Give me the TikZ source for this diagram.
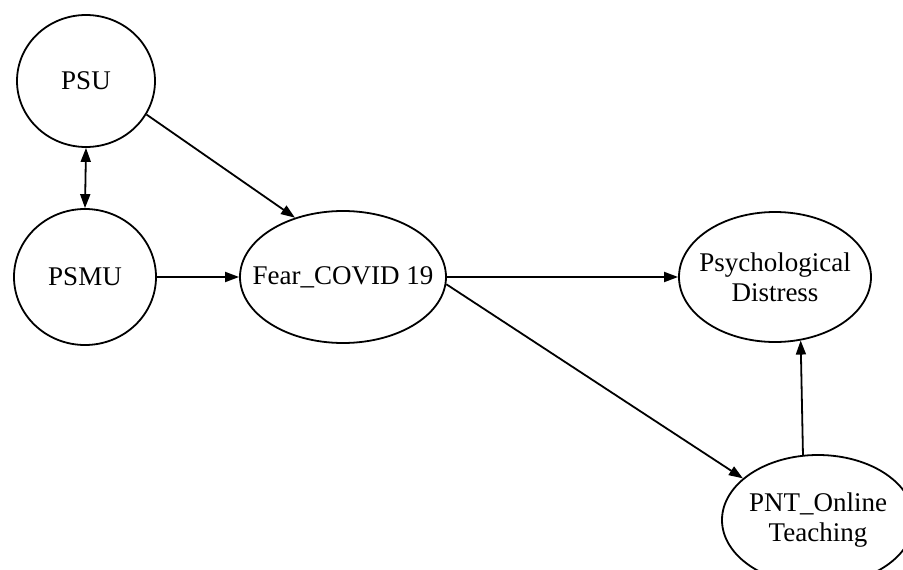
\documentclass[tikz,border=0pt]{standalone}
\usepackage{fontspec}
\setmainfont{Liberation Serif}
\usetikzlibrary{shapes.geometric,arrows.meta}
\tikzset{
  var/.style={ellipse, draw, line width=1.8pt, inner sep=0pt},
  every label/.style={align=center, font=\fontsize{27}{30}\selectfont, inner sep=0pt},
  conn/.style={line width=1.8pt, -{Triangle[length=14pt,width=10pt]}},
  biconn/.style={line width=1.8pt, {Triangle[length=14pt,width=10pt]}-{Triangle[length=14pt,width=10pt]}}
}
\begin{document}
\begin{tikzpicture}[x=1pt,y=-1pt]
\path[use as bounding box] (0,0) rectangle (903,570);
\clip (0,0) rectangle (903,570);
\node[var, minimum width=138pt, minimum height=132pt, label=center:PSU] (psu) at (86,81) {};
\node[var, minimum width=142pt, minimum height=136pt, label=center:PSMU] (psmu) at (85,277) {};
\node[var, minimum width=206pt, minimum height=132pt, label=center:Fear\_COVID 19] (fear) at (343,277) {};
\node[var, minimum width=192pt, minimum height=130pt, label={center:Psychological\\Distress}] (psych) at (775,277) {};
\node[var, minimum width=192pt, minimum height=130pt, label={center:PNT\_Online\\Teaching}] (pnt) at (818,520) {};
\draw[biconn] (psu.south) -- (psmu.north);
\draw[conn] (psu.-29) -- (fear.129);
\draw[conn] (psmu.east) -- (fear.west);
\draw[conn] (fear.east) -- (psych.west);
\draw[conn] (fear.-4) -- (pnt.151);
\draw[conn] (pnt.103) -- (psych.-68);
\end{tikzpicture}
\end{document}
